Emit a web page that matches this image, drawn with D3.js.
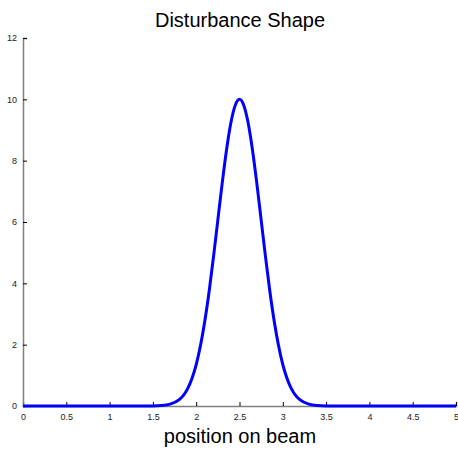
<!DOCTYPE html>
<html>
<head>
<meta charset="utf-8">
<script src="https://cdn.jsdelivr.net/npm/d3@7/dist/d3.min.js"></script>
<style>
  html, body { margin: 0; padding: 0; background: #fff; }
  svg { display: block; }
</style>
</head>
<body>
<svg id="chart" width="458" height="451"></svg>
<script>
// Disturbance profile sampled along the beam
const positions = [0, 0.5, 1.0, 1.5, 1.6, 1.7, 1.8, 1.85, 1.9, 1.95, 2.0, 2.05, 2.1, 2.15, 2.2, 2.25, 2.3, 2.35, 2.4, 2.45, 2.5,
                   2.55, 2.6, 2.65, 2.7, 2.75, 2.8, 2.85, 2.9, 2.95, 3.0, 3.05, 3.1, 3.15, 3.2, 3.3, 3.4, 3.5, 4.0, 4.5, 5.0];
const disturbance = [0, 0, 0, 0.003, 0.015, 0.06, 0.20, 0.34, 0.56, 0.89, 1.35, 1.98, 2.78, 3.75, 4.87, 6.07, 7.26, 8.35, 9.23, 9.80, 10.0,
                     9.80, 9.23, 8.35, 7.26, 6.07, 4.87, 3.75, 2.78, 1.98, 1.35, 0.89, 0.56, 0.34, 0.20, 0.06, 0.015, 0.003, 0, 0, 0];
const xTicks = [0, 0.5, 1, 1.5, 2, 2.5, 3, 3.5, 4, 4.5, 5];
const yTicks = [0, 2, 4, 6, 8, 10, 12];

const svg = d3.select("#chart");
const plotLeft = 23, plotRight = 456, plotTop = 38, plotBottom = 406;

const x = d3.scaleLinear().domain([0, 5]).range([plotLeft, plotRight]);
const y = d3.scaleLinear().domain([0, 12]).range([plotBottom, plotTop]);

// x axis: ticks point inward (up)
const xAxis = svg.append("g")
  .attr("transform", `translate(0,${plotBottom})`)
  .call(d3.axisBottom(x).tickValues(xTicks).tickSize(-4).tickPadding(8)
    .tickFormat(d => d3.format("")(d)));
xAxis.select(".domain").attr("stroke", "#808080").attr("stroke-width", 1.5);

// y axis: ticks point inward (right)
const yAxis = svg.append("g")
  .attr("transform", `translate(${plotLeft},0)`)
  .call(d3.axisLeft(y).tickValues(yTicks).tickSize(-4).tickPadding(6));
yAxis.select(".domain").attr("stroke", "#808080").attr("stroke-width", 1.5);

svg.selectAll(".tick line").attr("stroke", "#000").attr("stroke-width", 1);
svg.selectAll(".tick text")
  .attr("font-family", "Liberation Sans, Arial, sans-serif")
  .attr("font-size", 9)
  .attr("fill", "#222");

// disturbance curve
const pts = positions.map((p, i) => [p, disturbance[i]]);
svg.append("path")
  .datum(pts)
  .attr("fill", "none")
  .attr("stroke", "#0000ff")
  .attr("stroke-width", 3)
  .attr("stroke-linejoin", "round")
  .attr("d", d3.line().x(d => x(d[0])).y(d => y(d[1])).curve(d3.curveMonotoneX));

// title and axis label
svg.append("text")
  .attr("x", 240).attr("y", 27)
  .attr("text-anchor", "middle")
  .attr("font-family", "Liberation Sans, Arial, sans-serif")
  .attr("font-size", 20)
  .attr("fill", "#000")
  .text("Disturbance Shape");

svg.append("text")
  .attr("x", 240).attr("y", 443)
  .attr("text-anchor", "middle")
  .attr("font-family", "Liberation Sans, Arial, sans-serif")
  .attr("font-size", 20)
  .attr("fill", "#000")
  .text("position on beam");
</script>
</body>
</html>
